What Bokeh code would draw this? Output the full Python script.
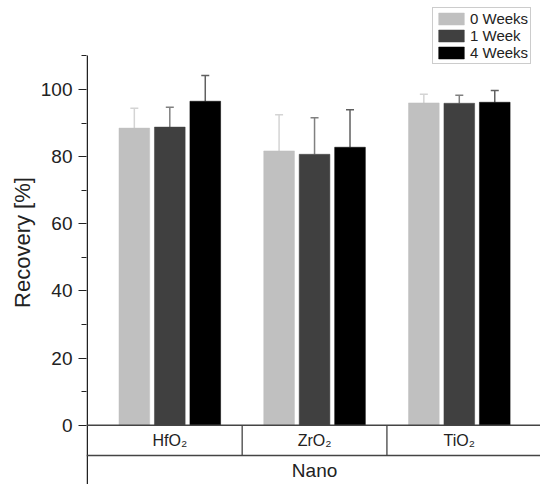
from bokeh.plotting import figure
from bokeh.models import (ColumnDataSource, FixedTicker, Legend, LegendItem,
                          Whisker, TeeHead, Range1d, Title)
from bokeh.core.properties import value
from bokeh.embed import file_html
from bokeh.resources import INLINE

# ---- data ----
materials = ["HfO₂", "ZrO₂", "TiO₂"]
group_label = "Nano"
series = ["0 Weeks", "1 Week", "4 Weeks"]
week0 = [88.5, 81.7, 96.0]
week1 = [88.8, 80.7, 95.9]
week4 = [96.5, 82.8, 96.2]
err0 = [5.9, 10.8, 2.6]
err1 = [5.9, 10.9, 2.4]
err4 = [7.7, 11.2, 3.5]
y_ticks = [0, 20, 40, 60, 80, 100]
y_minor = [10, 30, 50, 70, 90, 110]
y_axis_top = 110.1

# ---- style ----
fills = ["#c0c0c0", "#404040", "#000000"]
err_cols = ["#d4d4d4", "#808080", "#606060"]
FONT = "Liberation Sans"
offsets = [-0.245, 0.0, 0.245]
bar_w = 0.212
PX_X = 144.75  # pixels per x unit

p = figure(width=540, height=484, output_backend="svg", toolbar_location=None,
           x_range=Range1d(0.4245, 3.561), y_range=Range1d(-17.66, 126.51),
           min_border_left=86, min_border_top=0, min_border_right=0,
           min_border_bottom=0)
p.outline_line_color = None
p.xgrid.visible = False
p.ygrid.visible = False
p.xaxis.visible = False

ya = p.yaxis[0]
ya.ticker = FixedTicker(ticks=y_ticks, minor_ticks=y_minor)
ya.axis_line_color = None
ya.major_tick_line_color = "#222222"
ya.minor_tick_line_color = "#222222"
ya.major_tick_line_width = 1.2
ya.minor_tick_line_width = 1.2
ya.major_tick_out = 8
ya.major_tick_in = 0
ya.minor_tick_out = 5
ya.minor_tick_in = 0
ya.major_label_text_font = FONT
ya.major_label_text_font_size = "19px"
ya.major_label_text_color = "#222222"
ya.major_label_standoff = 6

ytitle = Title(text="Recovery [%]", align="center", offset=-8,
               text_font=FONT, text_font_size="22px", text_font_style="normal",
               text_color="#222222", standoff=5)
p.add_layout(ytitle, "left")

# manual y-axis line (stops at the top of the value axis)
x_axis_pos = p.x_range.start + 0.75 / PX_X
p.segment(x0=[x_axis_pos], y0=[p.y_range.start], x1=[x_axis_pos], y1=[y_axis_top],
          line_color="#222222", line_width=1.5)

xs = [i + 1 for i in range(len(materials))]
vals = [week0, week1, week4]
errs = [err0, err1, err4]
items = []
for k in range(3):
    xk = [x + offsets[k] for x in xs]
    src = ColumnDataSource(dict(x=xk, top=vals[k],
                                up=[v + e for v, e in zip(vals[k], errs[k])]))
    r = p.vbar(x="x", top="top", width=bar_w, bottom=0, source=src,
               fill_color=fills[k], line_color=fills[k], line_width=0.5)
    w = Whisker(base="x", lower="top", upper="up", source=src,
                line_color=err_cols[k], line_width=1.5,
                upper_head=TeeHead(size=8, line_color=err_cols[k], line_width=1.5),
                lower_head=None)
    p.add_layout(w)
    items.append(LegendItem(label=series[k], renderers=[r]))

# ---- category table under the axis ----
row1_mid = -4.56
row_line = -9.03
row2_mid = -13.5
x0, x1 = p.x_range.start, p.x_range.end
p.segment(x0=[x0, x0], y0=[0, row_line], x1=[x1, x1], y1=[0, row_line],
          line_color="#444444", line_width=1.5)
divs = [x + 0.5 for x in xs[:-1]]
p.segment(x0=divs, y0=[0] * len(divs), x1=divs, y1=[row_line] * len(divs),
          line_color="#444444", line_width=1.3)
p.text(x=xs, y=[row1_mid] * len(xs), text=materials, text_font=value(FONT),
       text_font_size="16px", text_align="center", text_baseline="middle",
       text_color="#222222")
p.text(x=[(xs[0] + xs[-1]) / 2], y=[row2_mid], text=[group_label],
       text_font=value(FONT), text_font_size="19px", text_align="center",
       text_baseline="middle", text_color="#222222")

legend = Legend(items=items, location=(346, 420), orientation="vertical",
                label_text_font=FONT, label_text_font_size="15px",
                label_text_color="#222222",
                glyph_width=32, glyph_height=15, label_height=15,
                label_standoff=3, spacing=0, padding=2, margin=0,
                border_line_color="#999999", border_line_width=1,
                background_fill_color="white", background_fill_alpha=1.0)
p.add_layout(legend, "center")

open("out.html", "w").write(file_html(p, INLINE))
